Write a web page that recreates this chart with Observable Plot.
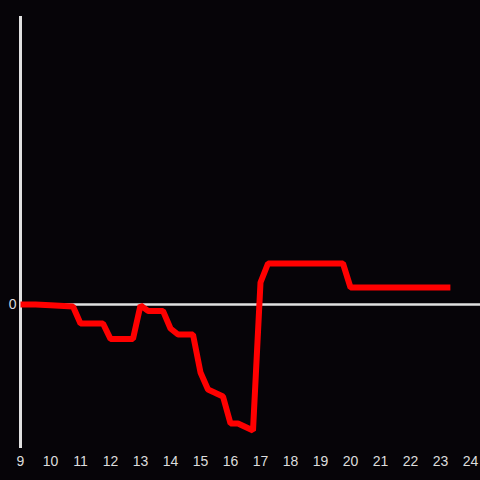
<!DOCTYPE html>
<html>
<head>
<meta charset="utf-8">
<script src="https://cdn.jsdelivr.net/npm/d3@7"></script>
<script src="https://cdn.jsdelivr.net/npm/@observablehq/plot@0.6"></script>
<style>
  html, body { margin: 0; padding: 0; background: #060408; }
  #chart svg { display: block; }
  #chart svg text { font-size: 14px; font-family: 'Liberation Sans', Arial, sans-serif; }
</style>
</head>
<body>
<div id="chart"></div>
<script>
const hours = [9, 9.5, 10, 10.75, 11, 11.75, 12, 12.75, 13, 13.25, 13.75, 14, 14.25, 14.75, 15, 15.25, 15.75, 16, 16.25, 16.75, 17, 17.25, 19.75, 20, 23.33];
const values = [0, 0, -0.2, -0.5, -4.75, -4.75, -8.6, -8.6, -0.2, -1.6, -1.6, -6, -7.5, -7.5, -17, -21.25, -23, -29.75, -29.75, -31.5, 5.5, 10.25, 10.25, 4.25, 4.25];
const xTicks = [9, 10, 11, 12, 13, 14, 15, 16, 17, 18, 19, 20, 21, 22, 23, 24];
const yTicks = [0];

const data = hours.map((h, i) => ({hour: h, value: values[i]}));

const chart = Plot.plot({
  width: 480,
  height: 480,
  marginLeft: 20,
  marginRight: 0,
  marginTop: 16,
  marginBottom: 32,
  style: {background: "#060408", color: "#dddddd", fontFamily: "'Liberation Sans', Arial, sans-serif", fontSize: "14px"},
  x: {domain: [9, 24.3333], ticks: xTicks, tickSize: 0, tickPadding: 8, label: null, tickFormat: d => String(d)},
  y: {domain: [-36, 72], ticks: yTicks, tickSize: 0, tickPadding: 4, label: null},
  marks: [
    Plot.ruleY([0], {stroke: "#e0e0e0", strokeWidth: 2.5}),
    Plot.ruleX([9], {stroke: "#e0e0e0", strokeWidth: 3}),
    Plot.line(data, {x: "hour", y: "value", stroke: "#ff0000", strokeWidth: 6, strokeLinejoin: "miter", strokeLinecap: "butt"})
  ]
});
document.getElementById("chart").appendChild(chart);
</script>
</body>
</html>
